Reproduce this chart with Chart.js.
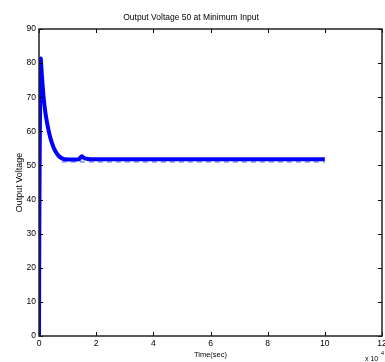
<!DOCTYPE html>
<html>
<head>
<meta charset="utf-8">
<script src="https://cdn.jsdelivr.net/npm/chart.js@4"></script>
<style>
  html, body { margin: 0; padding: 0; background: #fff; }
  #wrap { width: 385px; height: 362px; }
</style>
</head>
<body>
<div id="wrap"><canvas id="voltChart" width="385" height="362"></canvas></div>
<script>
// time in units of 1e4 sec, voltage in V
const timeVals = [0, 0.01, 0.03, 0.06, 0.1, 0.15, 0.2, 0.25, 0.33, 0.4, 0.5, 0.6, 0.7, 0.8, 0.9, 1.4, 1.45, 1.5, 1.58, 1.7, 2, 10];
const voltVals = [0, 30, 60, 81.3, 76.5, 71, 67, 64, 60.5, 58, 55.5, 53.8, 52.7, 52.1, 51.8, 51.8, 52.4, 52.7, 52.2, 51.9, 51.8, 51.8];
// dashed trace under the main one
const refTime = [0.8, 10];
const refVolt = [51.1, 51.1];
const xTicks = [0, 2, 4, 6, 8, 10, 12];
const yTicks = [0, 10, 20, 30, 40, 50, 60, 70, 80, 90];

const FONT = "'Liberation Sans', Arial, sans-serif";

const toPts = (xs, ys) => xs.map((x, i) => ({ x: x, y: ys[i] }));

// matlab style box + inward ticks + exponent label
const boxPlugin = {
  id: "boxPlugin",
  afterDraw(chart) {
    const { ctx, chartArea: a, scales } = chart;
    ctx.save();
    ctx.strokeStyle = "#000";
    ctx.lineWidth = 1;
    xTicks.forEach((v) => {
      const px = Math.round(scales.x.getPixelForValue(v)) + 0.5;
      ctx.beginPath();
      ctx.moveTo(px, a.bottom); ctx.lineTo(px, a.bottom - 4);
      ctx.moveTo(px, a.top); ctx.lineTo(px, a.top + 4);
      ctx.stroke();
    });
    yTicks.forEach((v) => {
      const py = Math.round(scales.y.getPixelForValue(v)) + 0.5;
      ctx.beginPath();
      ctx.moveTo(a.left, py); ctx.lineTo(a.left + 4, py);
      ctx.moveTo(a.right, py); ctx.lineTo(a.right - 4, py);
      ctx.stroke();
    });
    ctx.lineWidth = 1.5;
    ctx.strokeStyle = "#222";
    ctx.strokeRect(a.left, a.top, a.right - a.left, a.bottom - a.top);

    ctx.fillStyle = "#000";
    ctx.textBaseline = "alphabetic";
    ctx.font = "7px " + FONT;
    ctx.fillText("x 10", 365, 361);
    ctx.font = "5.5px " + FONT;
    ctx.fillText("4", 381, 355);
    ctx.restore();
  }
};

const chart = new Chart(document.getElementById("voltChart"), {
  type: "line",
  data: {
    datasets: [
      {
        data: toPts(timeVals, voltVals),
        borderColor: "#0000ff",
        borderWidth: 4,
        pointRadius: 0,
        tension: 0.2,
        order: 1
      },
      {
        data: toPts(refTime, refVolt),
        borderColor: "#8f9bff",
        borderWidth: 2,
        borderDash: [5, 4],
        pointRadius: 0,
        order: 2
      }
    ]
  },
  options: {
    responsive: false,
    animation: false,
    layout: { padding: { left: 0, right: 3, top: 0, bottom: 0 } },
    plugins: {
      legend: { display: false },
      tooltip: { enabled: false },
      title: {
        display: true,
        text: "Output Voltage 50 at Minimum Input",
        color: "#000",
        font: { family: FONT, size: 8.5, weight: "normal" },
        padding: { top: 13, bottom: 5.8 }
      }
    },
    scales: {
      x: {
        type: "linear",
        min: 0,
        max: 12,
        afterBuildTicks: (s) => { s.ticks = xTicks.map((v) => ({ value: v })); },
        afterFit: (s) => { s.height = 26; s.paddingLeft = 0; s.paddingRight = 0; },
        grid: { display: false, drawTicks: false },
        border: { display: false },
        ticks: { color: "#000", padding: 3, maxRotation: 0, font: { family: FONT, size: 8.5 } },
        title: {
          display: true,
          text: "Time(sec)",
          color: "#000",
          font: { family: FONT, size: 7.5 },
          padding: { top: 0, bottom: 2.5 }
        }
      },
      y: {
        type: "linear",
        min: 0,
        max: 90,
        afterBuildTicks: (s) => { s.ticks = yTicks.map((v) => ({ value: v })); },
        afterFit: (s) => { s.width = 39; s.paddingTop = 0; s.paddingBottom = 0; },
        grid: { display: false, drawTicks: false },
        border: { display: false },
        ticks: { color: "#000", padding: 3, font: { family: FONT, size: 8.5 } },
        title: {
          display: true,
          text: "Output Voltage",
          color: "#000",
          font: { family: FONT, size: 9 },
          padding: { top: 14.5, bottom: 0 }
        }
      }
    }
  },
  plugins: [boxPlugin]
});
</script>
</body>
</html>
